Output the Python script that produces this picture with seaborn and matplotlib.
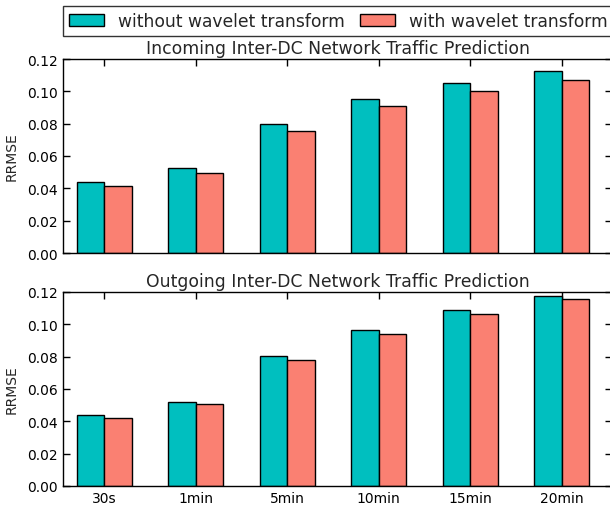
import numpy as np
import pandas as pd
import matplotlib
matplotlib.use("Agg")
import matplotlib.pyplot as plt
import seaborn as sns
from matplotlib.patches import Patch

categories = ["30s", "1min", "5min", "10min", "15min", "20min"]
series_names = ["without wavelet transform", "with wavelet transform"]
incoming_without = [0.0437, 0.0524, 0.0798, 0.0954, 0.1053, 0.1128]
incoming_with = [0.0414, 0.0495, 0.0754, 0.0907, 0.1002, 0.1068]
outgoing_without = [0.0440, 0.0522, 0.0807, 0.0968, 0.1086, 0.1173]
outgoing_with = [0.0423, 0.0508, 0.0782, 0.0940, 0.1064, 0.1154]
titles = ["Incoming Inter-DC Network Traffic Prediction",
          "Outgoing Inter-DC Network Traffic Prediction"]
yticks = [0.00, 0.02, 0.04, 0.06, 0.08, 0.10, 0.12]

sns.set_style("ticks")
plt.rcParams["font.family"] = ["DejaVu Sans"]
plt.rcParams["xtick.direction"] = "in"
plt.rcParams["ytick.direction"] = "in"

palette = {series_names[0]: "#00BFBF", series_names[1]: "#FA8072"}

def make_df(a, b):
    return pd.DataFrame({
        "cat": categories * 2,
        "val": list(a) + list(b),
        "series": [series_names[0]] * len(a) + [series_names[1]] * len(b),
    })

W, H = 610, 506
fig = plt.figure(figsize=(W / 100, H / 100), dpi=100)
left, right = 63 / W, 612 / W
ax1 = fig.add_axes([left, 1 - 254 / H, right - left, (254 - 60) / H])
ax2 = fig.add_axes([left, 1 - 487 / H, right - left, (487 - 293) / H])

for ax, (a, b), title in zip([ax1, ax2],
                             [(incoming_without, incoming_with), (outgoing_without, outgoing_with)],
                             titles):
    df = make_df(a, b)
    sns.barplot(data=df, x="cat", y="val", hue="series", palette=palette,
                width=0.6, edgecolor="black", linewidth=1.0, saturation=1,
                ax=ax, legend=False)
    ax.set_xlim(-0.45, 5.55)
    ax.set_ylim(0, 0.12)
    ax.set_yticks(yticks)
    ax.set_yticklabels([f"{t:.2f}" for t in yticks])
    ax.set_ylabel("RRMSE", fontsize=10)
    ax.set_xlabel("")
    ax.set_title(title, fontsize=12.4, pad=4)
    for s in ax.spines.values():
        s.set_visible(True)
        s.set_color("black")
        s.set_linewidth(1.0)
    ax.tick_params(axis="both", which="both", direction="in", top=True, right=True,
                   length=5, width=1, labelsize=10, colors="black")
    ax.yaxis.set_label_coords(-0.0814, 0.5)

ax1.set_xticklabels([])

handles = [Patch(facecolor=palette[n], edgecolor="black", linewidth=1) for n in series_names]
leg = fig.legend(handles, series_names, loc="upper left", ncol=2,
                 bbox_to_anchor=(62.7 / W, 1 - 6.7 / H), frameon=True, fancybox=False,
                 fontsize=12.3, borderaxespad=0, handlelength=2.03, handleheight=0.75,
                 columnspacing=0.92, handletextpad=0.84, borderpad=0.36)
leg.get_frame().set_edgecolor("black")
leg.get_frame().set_linewidth(1.0)

fig.savefig("out.png", dpi=100)
